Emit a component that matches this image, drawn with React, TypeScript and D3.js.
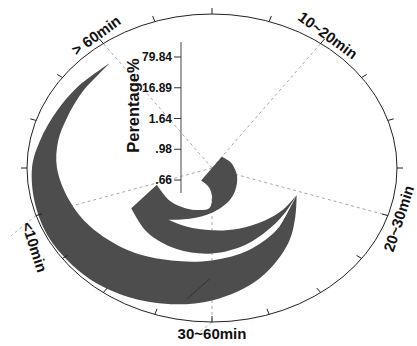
import React from 'react';
import * as d3 from 'd3';

// ---- data ----
const categories = ['10~20min', '20~30min', '30~60min', '<10min', '> 60min'];
const categoryAngles = [36, 108, 180, 252, 324];
const percentages = [0.98, 1.64, 16.89, 0.66, 79.84];
const tickLabels = ['.66', '.98', '1.64', '16.89', '79.84'];
const axisTitle = 'Perentage%';
const gridAngles = d3.range(0, 360, 18);

// band outlines as [angle in degrees, radius as share of the plot radius]
const crescentOuterEdge: [number, number][] = [
  [111, 0.49], [125, 0.55], [140, 0.64], [160, 0.76], [180, 0.86], [200, 0.93],
  [220, 0.975], [240, 0.99], [255, 0.985], [270, 0.973], [281, 0.946], [294, 0.916],
  [306, 0.897], [321, 0.877],
];
const crescentInnerEdge: [number, number][] = [
  [111, 0.49], [125, 0.5], [140, 0.535], [160, 0.57], [180, 0.6], [200, 0.64],
  [220, 0.7], [240, 0.76], [255, 0.8], [270, 0.838], [282, 0.85], [293, 0.849],
  [306, 0.858], [315, 0.864], [321, 0.877],
];
const crescentSeam: [number, number][] = [[189, 0.86], [181, 0.72]];
const spiralOuterEdge: [number, number][] = [
  [111, 0.49], [125, 0.49], [140, 0.5], [160, 0.53], [180, 0.555], [200, 0.56],
  [220, 0.545], [239, 0.509],
];
const spiralInnerEdge: [number, number][] = [
  [250, 0.317], [227, 0.312], [209, 0.298], [193, 0.28], [183, 0.26], [180, 0.18],
  [190.6, 0.119], [216, 0.1],
];
const coreOuterEdge: [number, number][] = [
  [36, 0.09], [60, 0.1], [76, 0.111], [111, 0.145], [140, 0.194], [160, 0.24],
  [180, 0.29], [200, 0.35], [215, 0.41],
];
const tongueEdge: [number, number][] = [
  [215, 0.41], [200, 0.405], [180, 0.405], [160, 0.42], [140, 0.445], [125, 0.47],
  [111, 0.49],
];

// ---- layout ----
const W = 417;
const H = 346;
const cx = 212;
const cy = 168;
const rx = 185;
const ry = 154;
const FILL = '#4d4d4d';
const FONT = 'Liberation Sans, Arial, sans-serif';

const angle = d3.scaleLinear().domain([0, 360]).range([0, 2 * Math.PI]);
const radX = d3.scaleLinear().domain([0, 1]).range([0, rx]);
const radY = d3.scaleLinear().domain([0, 1]).range([0, ry]);

function pt(a: number, r: number): [number, number] {
  const t = angle(a);
  return [cx + radX(r) * Math.sin(t), cy - radY(r) * Math.cos(t)];
}

const smooth = d3.line<[number, number]>().curve(d3.curveCatmullRom.alpha(0.5));

function bandPath(...edges: [number, number][][]) {
  return (
    edges
      .map((e, i) => {
        const s = smooth(e.map(([a, r]) => pt(a, r))) || '';
        return i === 0 ? s : 'L' + s.slice(1);
      })
      .join('') + 'Z'
  );
}

// radial value axis
const axisX = cx - 31;
const axisBottom = cy + 25;
const axisTop = 42;
const valueScale = d3.scalePoint<string>().domain(tickLabels).range([axisBottom - 13, axisBottom - 136]);

export default function App() {
  const crescent = bandPath(crescentOuterEdge, [...crescentInnerEdge].reverse());
  const spiral = bandPath(spiralOuterEdge, spiralInnerEdge, coreOuterEdge, tongueEdge);
  const [s1, s2] = crescentSeam.map(([a, r]) => pt(a, r));

  return (
    <svg
      width={W}
      height={H}
      style={{ position: 'absolute', left: 0, top: 0, background: '#fff' }}
      fontFamily={FONT}
    >
      {/* spokes */}
      {categoryAngles.map((a, i) => {
        const [x, y] = pt(a, 1);
        return (
          <line key={'s' + i} x1={cx} y1={cy} x2={x} y2={y} stroke="#a8a8a8" strokeWidth={1} strokeDasharray="3 3" />
        );
      })}
      {[[180, 24], [252, 32]].map(([a, len], i) => {
        const [x, y] = pt(a, 1);
        return (
          <line key={'l' + i} x1={x} y1={y} x2={x - 0.78 * len} y2={y + 0.63 * len} stroke="#b0b0b0" strokeDasharray="3 3" />
        );
      })}

      {/* bands */}
      <path d={crescent} fill={FILL} />
      <line x1={s1[0]} y1={s1[1]} x2={s2[0]} y2={s2[1]} stroke="#2e2e2e" strokeWidth={0.9} />
      <path d={spiral} fill={FILL} />

      {/* outer ellipse */}
      <ellipse cx={cx} cy={cy} rx={rx} ry={ry} fill="none" stroke="#222" strokeWidth={1} />
      {gridAngles.map((a) => {
        const [x, y] = pt(a, 1);
        const t = angle(a);
        let dx = rx * Math.sin(t);
        let dy = -ry * Math.cos(t);
        const n = Math.hypot(dx, dy);
        dx /= n;
        dy /= n;
        const out = Math.cos(t) > 0.001 || a === 90 || a === 270;
        const s = out ? 6 : -6;
        return <line key={'t' + a} x1={x} y1={y} x2={x + dx * s} y2={y + dy * s} stroke="#222" strokeWidth={1} />;
      })}

      {/* category labels */}
      {categories.map((c, i) => {
        const a = categoryAngles[i];
        const [x, y] = pt(a, 1);
        const t = angle(a);
        let dx = rx * Math.sin(t);
        let dy = -ry * Math.cos(t);
        const n = Math.hypot(dx, dy);
        dx /= n;
        dy /= n;
        const lx = x + dx * 11;
        const ly = y + dy * 11;
        let rot = a;
        if (a > 90 && a < 270) rot = a - 180;
        if (a >= 270) rot = a - 360;
        const shift = a === 252 ? 30 : 0;
        return (
          <text
            key={'c' + i}
            transform={`translate(${lx},${ly}) rotate(${rot})`}
            x={shift}
            textAnchor="middle"
            dominantBaseline="central"
            fontSize={15}
            fontWeight="bold"
            fill="#111"
          >
            {c}
          </text>
        );
      })}

      {/* value axis */}
      <line x1={axisX} y1={axisTop} x2={axisX} y2={axisBottom} stroke="#666" strokeWidth={1.2} />
      {tickLabels.map((t) => {
        const y = valueScale(t) as number;
        return (
          <g key={'v' + t}>
            <line x1={axisX - 7} y1={y} x2={axisX} y2={y} stroke="#333" strokeWidth={1} />
            <text x={axisX - 9} y={y} textAnchor="end" dominantBaseline="central" fontSize={12} fontWeight="bold" fill="#111">
              {t}
            </text>
          </g>
        );
      })}
      <text
        transform={`translate(${axisX - 48},${(axisTop + axisBottom) / 2 - 12}) rotate(-90)`}
        textAnchor="middle"
        dominantBaseline="central"
        fontSize={16.5}
        fontWeight="bold"
        fill="#111"
      >
        {axisTitle}
      </text>
      <desc>{percentages.join(',')}</desc>
    </svg>
  );
}
